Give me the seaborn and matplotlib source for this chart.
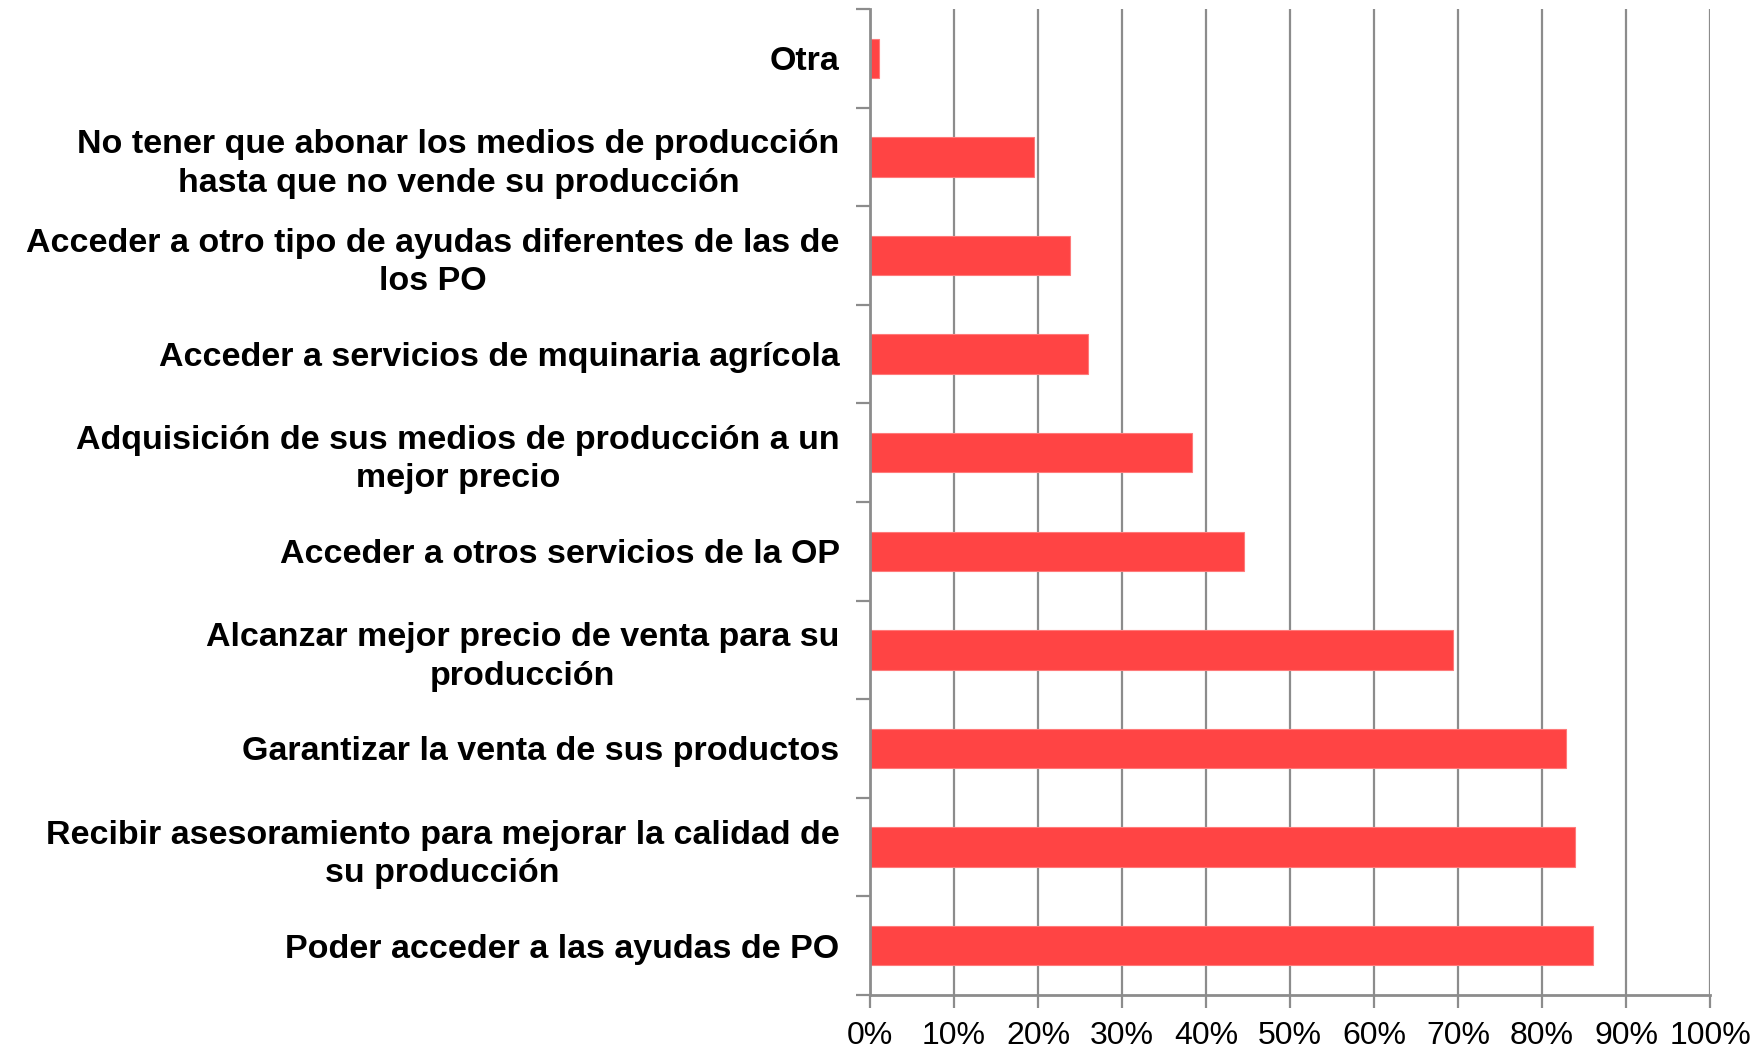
import numpy as np
import pandas as pd
import seaborn as sns
import matplotlib.pyplot as plt
from matplotlib.ticker import FixedLocator, PercentFormatter

categories = [
    'Otra',
    'No tener que abonar los medios de producción\nhasta que no vende su producción',
    'Acceder a otro tipo de ayudas diferentes de las de\nlos PO',
    'Acceder a servicios de mquinaria agrícola',
    'Adquisición de sus medios de producción a un\nmejor precio',
    'Acceder a otros servicios de la OP',
    'Alcanzar mejor precio de venta para su\nproducción',
    'Garantizar la venta de sus productos',
    'Recibir asesoramiento para mejorar la calidad de\nsu producción',
    'Poder acceder a las ayudas de PO',
]
values = [1.1, 19.5, 23.8, 26.0, 38.3, 44.5, 69.4, 82.9, 83.9, 86.1]

df = pd.DataFrame({'motivo': categories, 'pct': values})

sns.set_style('white')
plt.rcParams['font.family'] = ['Liberation Sans', 'DejaVu Sans']
plt.rcParams['text.color'] = 'black'
plt.rcParams['xtick.labelcolor'] = 'black'
plt.rcParams['ytick.labelcolor'] = 'black'

fig = plt.figure(figsize=(17.62, 10.48), dpi=100)
ax = fig.add_axes([0.4938, 0.0506, 0.9705 - 0.4938, 0.9914 - 0.0506])

sns.barplot(data=df, x='pct', y='motivo', orient='h', color='#ff4444',
            saturation=1, width=0.4, ax=ax, edgecolor='#ff7a7a', linewidth=0.8)

grey = '#8c8c8c'
ax.set_xlim(0, 100)
ax.set_ylim(len(categories) - 0.5, -0.5)
ax.set_xticks(np.arange(0, 101, 10))
ax.xaxis.set_major_formatter(PercentFormatter(decimals=0))
ax.xaxis.grid(True, color=grey, linewidth=1.6)
ax.set_axisbelow(True)

# major ticks on the category boundaries, labels on the centres
ax.yaxis.set_major_locator(FixedLocator(np.arange(-0.5, len(categories), 1)))
ax.yaxis.set_minor_locator(FixedLocator(np.arange(len(categories))))
ax.set_yticklabels([], minor=False)
ax.set_yticklabels(categories, minor=True, fontsize=24.5, fontweight='bold',
                   ha='right', multialignment='center', linespacing=1.3, color='black')

ax.tick_params(axis='y', which='major', length=10, width=1.6, color=grey, direction='out', left=True)
ax.tick_params(axis='y', which='minor', length=0, pad=22)
ax.tick_params(axis='x', which='major', length=9, width=1.6, color=grey, direction='out',
               bottom=True, labelsize=23, pad=10, labelcolor='black')

for side in ['top', 'right']:
    ax.spines[side].set_visible(False)
for side in ['left', 'bottom']:
    ax.spines[side].set_color(grey)
    ax.spines[side].set_linewidth(2)

ax.set_xlabel('')
ax.set_ylabel('')

fig.savefig('out.png', dpi=100)
